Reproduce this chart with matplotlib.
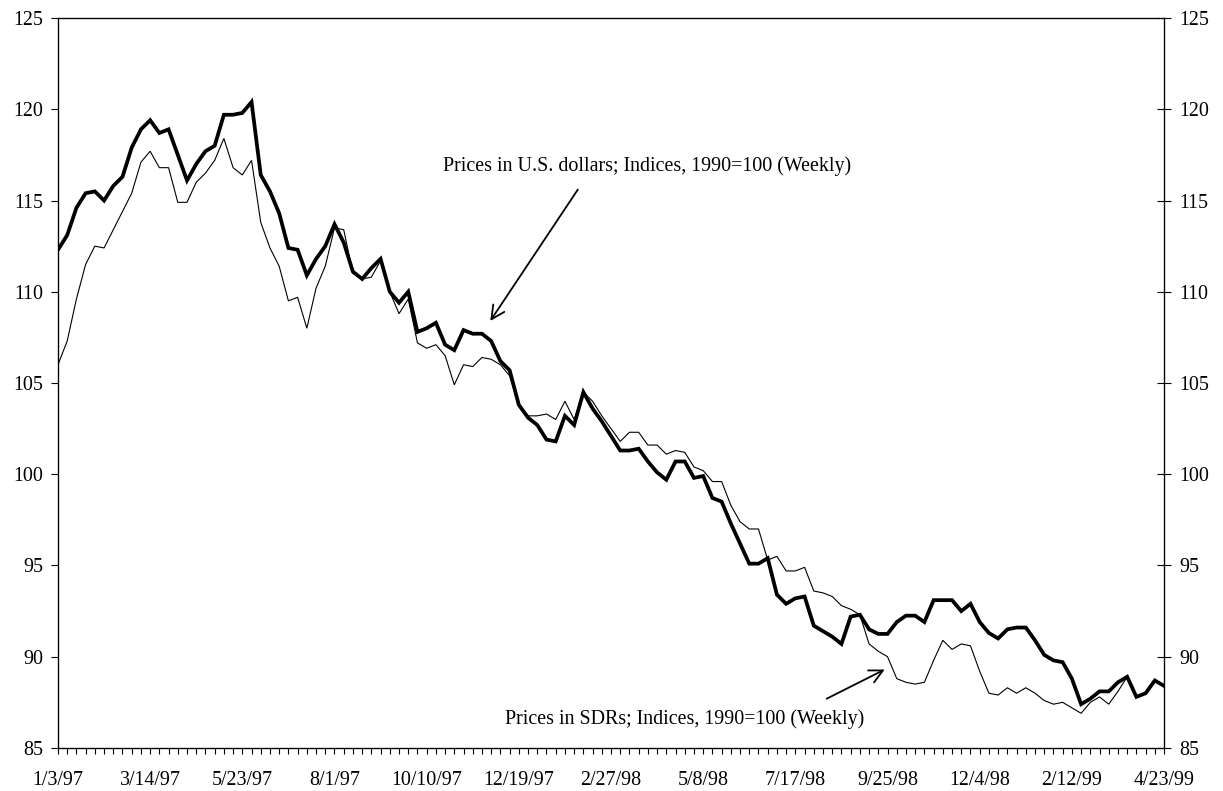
import numpy as np
import matplotlib
matplotlib.use("Agg")
import matplotlib.pyplot as plt
from matplotlib.ticker import MultipleLocator

# weekly index values, 1/3/97 .. 4/23/99
usd_prices = [
    112.3, 113.1, 114.6, 115.4, 115.5, 115.0, 115.8, 116.3, 117.9, 118.9,
    119.4, 118.7, 118.9, 117.5, 116.1, 117.0, 117.7, 118.0, 119.7, 119.7,
    119.8, 120.4, 116.4, 115.5, 114.3, 112.4, 112.3, 110.9, 111.8, 112.5,
    113.7, 112.7, 111.1, 110.7, 111.3, 111.8, 110.0, 109.4, 110.0, 107.8,
    108.0, 108.3, 107.1, 106.8, 107.9, 107.7, 107.7, 107.3, 106.2, 105.7,
    103.8, 103.1, 102.7, 101.9, 101.8, 103.2, 102.7, 104.5, 103.6, 102.9,
    102.1, 101.3, 101.3, 101.4, 100.7, 100.1, 99.7, 100.7, 100.7, 99.8,
    99.9, 98.7, 98.5, 97.3, 96.2, 95.1, 95.1, 95.4, 93.4, 92.9,
    93.2, 93.3, 91.7, 91.4, 91.1, 90.7, 92.2, 92.3, 91.5, 91.25,
    91.25, 91.9, 92.25, 92.25, 91.9, 93.1, 93.1, 93.1, 92.5, 92.9,
    91.9, 91.3, 91.0, 91.5, 91.6, 91.6, 90.9, 90.1, 89.8, 89.7,
    88.8, 87.4, 87.7, 88.1, 88.1, 88.6, 88.9, 87.8, 88.0, 88.7, 88.4,
]

sdr_prices = [
    106.0, 107.3, 109.6, 111.5, 112.5, 112.4, 113.4, 114.4, 115.4, 117.1,
    117.7, 116.8, 116.8, 114.9, 114.9, 116.0, 116.5, 117.2, 118.4, 116.8,
    116.4, 117.2, 113.8, 112.4, 111.4, 109.5, 109.7, 108.0, 110.2, 111.4,
    113.5, 113.4, 111.0, 110.7, 110.8, 111.7, 110.0, 108.8, 109.6, 107.2,
    106.9, 107.1, 106.5, 104.9, 106.0, 105.9, 106.4, 106.3, 106.0, 105.4,
    103.8, 103.2, 103.2, 103.3, 103.0, 104.0, 103.0, 104.5, 104.0, 103.2,
    102.5, 101.8, 102.3, 102.3, 101.6, 101.6, 101.1, 101.3, 101.2, 100.4,
    100.2, 99.6, 99.6, 98.3, 97.4, 97.0, 97.0, 95.3, 95.5, 94.7,
    94.7, 94.9, 93.6, 93.5, 93.3, 92.8, 92.6, 92.3, 90.7, 90.3,
    90.0, 88.8, 88.6, 88.5, 88.6, 89.8, 90.9, 90.4, 90.7, 90.6,
    89.2, 88.0, 87.9, 88.3, 88.0, 88.3, 88.0, 87.6, 87.4, 87.5,
    87.2, 86.9, 87.5, 87.8, 87.4, 88.1, 88.9, 87.8, 88.0, 88.7, 88.4,
]

tick_labels = ["1/3/97", "3/14/97", "5/23/97", "8/1/97", "10/10/97", "12/19/97",
               "2/27/98", "5/8/98", "7/17/98", "9/25/98", "12/4/98", "2/12/99",
               "4/23/99"]

plt.rcParams["font.family"] = ["Liberation Serif", "DejaVu Serif"]
plt.rcParams["font.size"] = 14.4

weeks = np.arange(len(usd_prices))

fig = plt.figure(figsize=(12.23, 7.91), dpi=100)
ax = fig.add_axes([0.0474, 0.0544, 0.9044, 0.9228])

ax.plot(weeks, sdr_prices, color="black", lw=0.8, solid_joinstyle="miter")
ax.plot(weeks, usd_prices, color="black", lw=2.7, solid_joinstyle="miter")

ax.set_xlim(0, len(usd_prices) - 1)
ax.set_ylim(85, 125)
ax.set_yticks(np.arange(85, 126, 5))
ax.set_xticks(weeks[::10])
ax.set_xticklabels(tick_labels)
ax.xaxis.set_minor_locator(MultipleLocator(1))
ax.tick_params(axis="x", which="both", direction="out", length=4, width=0.8, pad=12.5)
ax.tick_params(axis="y", direction="out", length=4.8, width=0.8, pad=6)
for s in ax.spines.values():
    s.set_linewidth(0.9)

ax2 = ax.twinx()
ax2.set_ylim(85, 125)
ax2.set_yticks(np.arange(85, 126, 5))
ax2.tick_params(axis="y", direction="inout", length=9.4, width=0.8, pad=6)

arrow_style = dict(arrowstyle="->", lw=1.3, color="black",
                   mutation_scale=24, shrinkA=0, shrinkB=0)

ax.text(63.9, 116.9, "Prices in U.S. dollars; Indices, 1990=100 (Weekly)",
        ha="center", va="center")
ax.annotate("", xy=(46.9, 108.4), xytext=(56.4, 115.6), arrowprops=arrow_style)

ax.text(68.0, 86.6, "Prices in SDRs; Indices, 1990=100 (Weekly)",
        ha="center", va="center")
ax.annotate("", xy=(89.7, 89.3), xytext=(83.4, 87.7), arrowprops=arrow_style)

fig.savefig("out.png", dpi=100)
